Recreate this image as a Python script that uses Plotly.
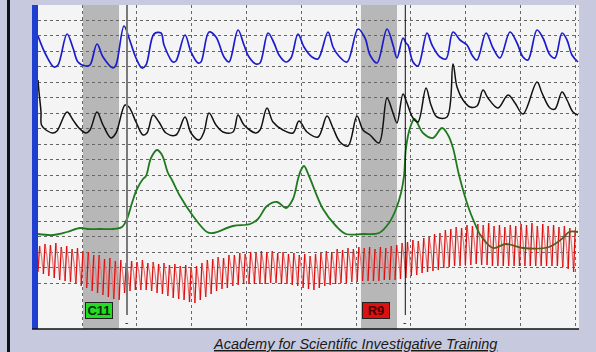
import plotly.graph_objects as go

# ---- data (chart units: x = time units from chart start, v = height above chart bottom) ----
pneumo_upper_x = [0, 8, 16, 20, 29, 35, 40, 48, 52, 59, 65, 75, 78, 86, 91, 98, 104, 108, 116, 123, 126, 135, 138,
                  147, 153, 160, 163, 171, 178, 186, 191, 200, 206, 211, 218, 222, 230, 236, 241, 248, 253, 260, 266,
                  274, 280, 290, 295, 300, 309, 320, 327, 332, 339, 349, 355, 359, 365, 368, 370, 375, 380, 389, 394,
                  402, 408, 415, 422, 429, 434, 439, 448, 455, 462, 472, 479, 485, 490, 499, 505, 512, 517, 524, 529,
                  534, 540]
pneumo_upper_v = [293, 274, 262, 264, 295, 281, 267, 263, 264, 285, 272, 261, 264, 303, 291, 271, 261, 264, 295, 296,
                  284, 267, 268, 294, 277, 266, 267, 297, 292, 272, 267, 299, 284, 272, 265, 266, 296, 286, 274, 267,
                  271, 295, 282, 272, 270, 297, 282, 274, 267, 300, 291, 274, 266, 300, 284, 271, 291, 286, 284, 267,
                  263, 296, 284, 272, 270, 297, 289, 284, 274, 269, 296, 281, 271, 297, 286, 272, 269, 299, 291, 274,
                  271, 296, 289, 274, 267]

pneumo_lower_x = [0, 1, 3, 3.5, 8, 15, 19, 29, 35, 41, 48, 52, 59, 65, 73, 78, 87, 91, 98, 105, 109, 115, 121, 128,
                  138, 147, 153, 161, 166, 171, 178, 185, 195, 200, 206, 218, 222, 229, 235, 245, 255, 261, 269, 280,
                  289, 295, 302, 310, 319, 325, 332, 341, 349, 355, 359, 365, 369, 375, 380, 388, 393, 399, 409, 415,
                  419, 425, 432, 439, 445, 450, 460, 470, 477, 485, 499, 504, 512, 517, 524, 529, 535, 540]
pneumo_lower_v = [249, 237, 217, 204, 199, 196, 198, 217, 209, 201, 196, 199, 217, 204, 191, 196, 224, 222, 207, 194,
                  196, 214, 207, 196, 194, 212, 196, 189, 197, 216, 204, 197, 197, 214, 204, 196, 199, 221, 207, 199,
                  196, 208, 197, 192, 213, 201, 187, 183, 213, 199, 194, 186, 231, 216, 206, 235, 226, 211, 207, 241,
                  224, 212, 212, 265, 242, 229, 222, 223, 239, 231, 221, 234, 226, 215, 247, 236, 221, 220, 237, 229,
                  217, 214]

eda_x = [0, 15, 29, 42, 49, 62, 75, 84, 89, 94, 99, 105, 108, 113, 119, 124, 130, 134, 142, 155, 169, 175, 195, 212,
         220, 229, 239, 248, 255, 260, 263, 266, 271, 285, 298, 308, 325, 341, 351, 358, 363, 366, 368, 372, 376.5,
         385, 395, 404, 410, 415, 421, 431, 441]
eda_v = [95, 94, 97, 101, 100, 100, 100, 102, 110, 126, 140, 150, 153, 171, 179, 174, 156, 149, 133, 113, 97, 96, 103,
         105, 110, 123, 127, 121, 130, 150, 159, 163, 153, 120, 103, 95, 95, 96, 106, 120, 136, 153, 181, 201, 210,
         196, 191, 201, 194, 181, 154, 120, 96]
eda_tail_x = [441, 455, 468, 485, 511, 525, 531, 540]
eda_tail_v = [96, 81, 85, 81, 82, 91, 97, 97]

cardio_peak = [83, 85, 84, 86, 82, 83, 80, 81, 78, 77,
               74, 74, 70, 71, 68, 69, 66, 68, 67, 69,
               66, 67, 65, 66, 64, 65, 63, 64, 62, 63,
               66, 69, 70, 72, 71, 74, 74, 76, 75, 77,
               76, 78, 77, 78, 76, 77, 75, 76, 74, 75,
               73, 75, 76, 78, 77, 80, 79, 81, 80, 82,
               81, 82, 80, 82, 81, 83, 84, 86, 87, 89,
               88, 91, 92, 95, 96, 99, 100, 102, 101, 104,
               103, 105, 104, 106, 103, 104, 102, 104, 103, 105,
               104, 106, 103, 105, 103, 104, 102, 103, 101, 99]
cardio_trough = [57, 55, 53, 51, 49, 48, 47, 45, 43, 41,
                 38, 36, 34, 32, 30, 29, 36, 38, 39, 39,
                 39, 38, 36, 35, 33, 31, 30, 29, 27, 26,
                 29, 32, 35, 38, 40, 41, 43, 44, 45, 45,
                 45, 45, 45, 46, 46, 45, 45, 44, 43, 41,
                 40, 39, 41, 43, 44, 45, 46, 46, 47, 47,
                 48, 48, 48, 48, 49, 49, 49, 50, 51, 53,
                 54, 56, 57, 58, 59, 61, 62, 63, 63, 64,
                 64, 65, 64, 64, 63, 63, 63, 63, 63, 63,
                 63, 63, 63, 63, 63, 63, 63, 62, 60, 57]
beat_interval = 5.41  # time units per beat

question_windows = [(45, 81), (323, 359)]   # shaded question periods
question_marks = [89, 367.3]                # verbal answer lines
question_labels = ["C11", "R9"]
label_x = [61, 338]

# ---- build cardio segments: systolic upstroke (dark) and diastolic fall (light) ----
up_x, up_v, dn_x, dn_v = [], [], [], []
n = len(cardio_peak)
for i in range(n):
    t0 = i * beat_interval
    tp = t0 + beat_interval * 0.3
    up_x += [t0, tp, None]
    up_v += [cardio_trough[i], cardio_peak[i], None]
    if i + 1 < n:
        nxt = cardio_trough[i + 1]
        mid = (cardio_peak[i] + nxt) / 2 + 4
        dn_x += [tp, t0 + beat_interval * 0.65, t0 + beat_interval, None]
        dn_v += [cardio_peak[i], mid, nxt, None]

fig = go.Figure()
fig.add_trace(go.Scatter(x=dn_x, y=dn_v, mode="lines", line=dict(color="#e07a7a", width=1.2), hoverinfo="skip"))
fig.add_trace(go.Scatter(x=up_x, y=up_v, mode="lines", line=dict(color="#e00f0f", width=1.3), hoverinfo="skip"))
fig.add_trace(go.Scatter(x=eda_x, y=eda_v, mode="lines", line=dict(color="#1f7a1f", width=1.8, shape="spline"),
                         hoverinfo="skip"))
fig.add_trace(go.Scatter(x=eda_tail_x, y=eda_tail_v, mode="lines",
                         line=dict(color="#5e5a1c", width=1.8, shape="spline"), hoverinfo="skip"))
fig.add_trace(go.Scatter(x=pneumo_upper_x, y=pneumo_upper_v, mode="lines",
                         line=dict(color="#1c1ccc", width=1.7, shape="spline"), hoverinfo="skip"))
fig.add_trace(go.Scatter(x=pneumo_lower_x, y=pneumo_lower_v, mode="lines",
                         line=dict(color="#111111", width=1.5, shape="spline"), hoverinfo="skip"))

shapes = []
for a, b in question_windows:
    shapes.append(dict(type="rect", xref="x", yref="y", x0=a, x1=b, y0=0, y1=324,
                       fillcolor="#b7b7b7", line=dict(width=0), layer="below"))
shapes.append(dict(type="line", xref="x", yref="y", x0=question_marks[0], x1=question_marks[0], y0=14, y1=324,
                   line=dict(color="#7a7a7a", width=2)))
shapes.append(dict(type="line", xref="x", yref="y", x0=question_marks[1], x1=question_marks[1], y0=14, y1=324,
                   line=dict(color="#111111", width=1)))
# left blue bar and frame
shapes.append(dict(type="rect", xref="paper", yref="paper", x0=-6 / 541, x1=-1 / 541, y0=0, y1=1,
                   fillcolor="#1f3fd0", line=dict(width=0)))
shapes.append(dict(type="line", xref="paper", yref="paper", x0=-0.5 / 541, x1=-0.5 / 541, y0=0, y1=1,
                   line=dict(color="#444444", width=1)))
shapes.append(dict(type="line", xref="paper", yref="paper", x0=-6 / 541, x1=1, y0=0, y1=0,
                   line=dict(color="#111111", width=1.5)))
shapes.append(dict(type="line", xref="paper", yref="paper", x0=-29.5 / 541, x1=-29.5 / 541, y0=-23 / 324,
                   y1=329 / 324, line=dict(color="#111111", width=3)))

annotations = []
colors = [("#22dd22", "#0a2a0a"), ("#dd1111", "#4a0000")]
for lab, lx, (bg, fg) in zip(question_labels, label_x, colors):
    annotations.append(dict(x=lx, y=18.5, xref="x", yref="y", text="<b>%s</b>" % lab, showarrow=False,
                            width=26, height=15,
                            font=dict(family="Liberation Sans Narrow, Liberation Sans, Arial", size=13, color=fg),
                            bgcolor=bg, bordercolor="#222222", borderwidth=1, borderpad=0))
for qm in question_marks:
    annotations.append(dict(x=qm - 1, y=7, xref="x", yref="y", text="-", showarrow=False,
                            font=dict(family="Liberation Sans", size=10, color="#222222")))
annotations.append(dict(x=(355 - 38) / 541, y=(329 - 344) / 324, xref="paper", yref="paper",
                        xanchor="center", yanchor="middle",
                        text="<i><u>Academy for Scientific Investigative Training</u></i>", showarrow=False,
                        font=dict(family="Liberation Sans, Arial", size=14.5, color="#1a1a1a")))

fig.update_layout(
    width=596, height=352, autosize=False,
    margin=dict(l=38, r=17, t=5, b=23),
    paper_bgcolor="#c7cadf", plot_bgcolor="#f4f4f4",
    showlegend=False, shapes=shapes, annotations=annotations,
    xaxis=dict(range=[0, 541], showticklabels=False, ticks="", zeroline=False, showline=False,
               tick0=44, dtick=54.83, showgrid=True, gridcolor="#666666", griddash="dot", gridwidth=1),
    yaxis=dict(range=[0, 324], showticklabels=False, ticks="", zeroline=False, showline=False,
               tickvals=[45.7 + 15.46 * k for k in range(18)], showgrid=True, gridcolor="#666666",
               griddash="dot", gridwidth=1),
)
fig.write_html("out.html", config={"displayModeBar": False},
               post_script="document.body.style.margin='0';document.body.style.background='#c7cadf';")
